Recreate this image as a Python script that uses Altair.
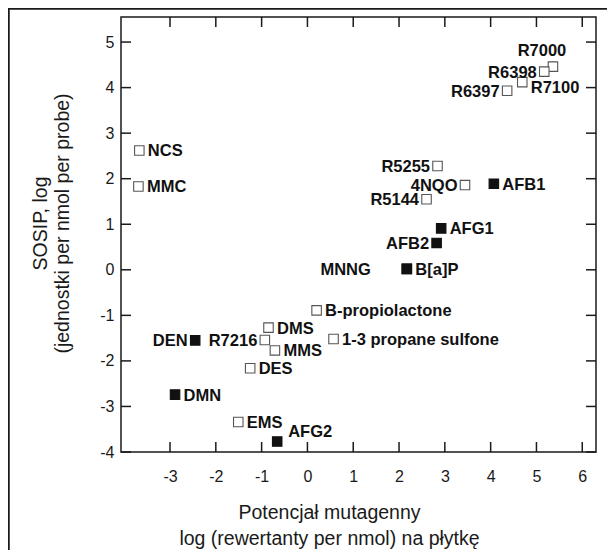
import altair as alt
import pandas as pd

# ---- data ----
names = ["R7000", "R6398", "R7100", "R6397", "NCS", "MMC", "R5255", "4NQO", "AFB1",
         "R5144", "AFG1", "AFB2", "B[a]P", "MNNG", "B-propiolactone",
         "1-3 propane sulfone", "DMS", "R7216", "MMS", "DES", "DEN", "DMN", "EMS", "AFG2"]
mutagenic = [5.36, 5.17, 4.69, 4.36, -3.67, -3.69, 2.84, 3.44, 4.07,
             2.60, 2.92, 2.82, 2.17, 2.17, 0.20,
             0.57, -0.85, -0.93, -0.71, -1.25, -2.45, -2.89, -1.51, -0.66]
sosip = [4.46, 4.35, 4.12, 3.93, 2.62, 1.83, 2.28, 1.86, 1.89,
         1.55, 0.91, 0.59, 0.02, 0.02, -0.89,
         -1.52, -1.27, -1.54, -1.77, -2.16, -1.55, -2.74, -3.34, -3.77]
filled = [0, 0, 0, 0, 0, 0, 0, 0, 1,
          0, 1, 1, 1, 1, 0,
          0, 0, 0, 0, 0, 1, 1, 0, 1]
# label side: r = right, l = left, ll = far left, t = top, br = below right, tr = above right
placement = ["t", "l", "br", "l", "r", "r", "l", "l", "r",
             "l", "r", "l", "r", "ll", "r",
             "r", "r", "l", "r", "r", "l", "r", "r", "tr"]

x_ticks = [-3, -2, -1, 0, 1, 2, 3, 4, 5, 6]
y_ticks = [-4, -3, -2, -1, 0, 1, 2, 3, 4, 5]

x_title = ["Potencjał mutagenny", "log (rewertanty per nmol) na płytkę"]
y_title = ["SOSIP, log", "(jednostki per nmol per probe)"]

df = pd.DataFrame({"name": names, "x": mutagenic, "y": sosip,
                   "filled": filled, "place": placement})
xt = pd.DataFrame({"v": x_ticks})
yt = pd.DataFrame({"v": y_ticks})

W, H = 475, 435
FONT = "Liberation Sans"
INK = "#1a1a1a"
LABEL_EXPR = "datum.value < 0 ? '-' + abs(datum.value) : '' + datum.value"

xscale = alt.Scale(domain=[-4.07, 6.3], nice=False, zero=False)
yscale = alt.Scale(domain=[-4.0, 5.55], nice=False, zero=False)

x_axis = alt.Axis(values=x_ticks, title=x_title, titleX=208, titleY=66,
                  titleAlign="center", titleBaseline="alphabetic",
                  titleFontSize=19.5, titleFontWeight="normal", titleLineHeight=26,
                  labelPadding=16, labelExpr=LABEL_EXPR)
y_axis = alt.Axis(values=y_ticks, title=y_title, titleX=-75, titleY=206,
                  titleAngle=270, titleAlign="center", titleBaseline="alphabetic",
                  titleFontSize=19.5, titleFontWeight="normal", titleLineHeight=22,
                  labelPadding=7, labelExpr=LABEL_EXPR)


def X(field):
    return alt.X(field, scale=xscale, axis=x_axis)


def Y(field):
    return alt.Y(field, scale=yscale, axis=y_axis)


squares = alt.Chart(df).mark_point(shape="square", size=90, strokeWidth=1.1,
                                   opacity=1).encode(
    x=X("x:Q"),
    y=Y("y:Q"),
    fill=alt.Fill("filled:N", scale=alt.Scale(domain=[0, 1], range=["white", "#111111"]),
                  legend=None),
    stroke=alt.Stroke("filled:N", scale=alt.Scale(domain=[0, 1], range=["#555555", "#111111"]),
                      legend=None),
)

# outer frame lines (top and left)
one = pd.DataFrame({"a": [0]})
frame_top = alt.Chart(one).mark_rule(color=INK, strokeWidth=2).encode(
    x=alt.value(-113), x2=alt.value(W + 11), y=alt.value(-8.25))
frame_left = alt.Chart(one).mark_rule(color=INK, strokeWidth=2).encode(
    x=alt.value(-112.25), y=alt.value(-9), y2=alt.value(H + 98))

TL = 10
tick_style = dict(color=INK, strokeWidth=1.5)
xb = alt.Chart(xt).mark_rule(**tick_style).encode(
    x=X("v:Q"), y=alt.value(H), y2=alt.value(H - TL))
xtp = alt.Chart(xt).mark_rule(**tick_style).encode(
    x=X("v:Q"), y=alt.value(0), y2=alt.value(TL))
yl = alt.Chart(yt).mark_rule(**tick_style).encode(
    y=Y("v:Q"), x=alt.value(0), x2=alt.value(TL))
yr = alt.Chart(yt).mark_rule(**tick_style).encode(
    y=Y("v:Q"), x=alt.value(W), x2=alt.value(W - TL))

offsets = {
    "r": dict(align="left", dx=8.5, dy=1),
    "l": dict(align="right", dx=-7.5, dy=1),
    "ll": dict(align="right", dx=-36, dy=1),
    "t": dict(align="center", dx=-11, dy=-16),
    "br": dict(align="left", dx=8.5, dy=6),
    "tr": dict(align="left", dx=11, dy=-10),
}
texts = []
for key, opt in offsets.items():
    texts.append(
        alt.Chart(df).transform_filter(alt.datum.place == key).mark_text(
            font=FONT, fontSize=16.5, fontWeight="bold", color="#111111",
            baseline="middle", **opt).encode(
            x=X("x:Q"),
            y=Y("y:Q"),
            text="name:N")
    )

chart = alt.layer(squares, frame_top, frame_left, xb, xtp, yl, yr, *texts).properties(
    width=W, height=H,
    padding={"left": 113, "top": 9, "right": 11, "bottom": 98},
    autosize=alt.AutoSizeParams(type="none"),
).configure_view(stroke=INK, strokeWidth=1.5).configure_axis(
    domain=False, ticks=False, grid=False,
    labelFont=FONT, labelFontSize=16, labelColor=INK,
    titleFont=FONT, titleColor=INK,
)

chart.save("out.html", embed_options={"renderer": "svg", "actions": False})
